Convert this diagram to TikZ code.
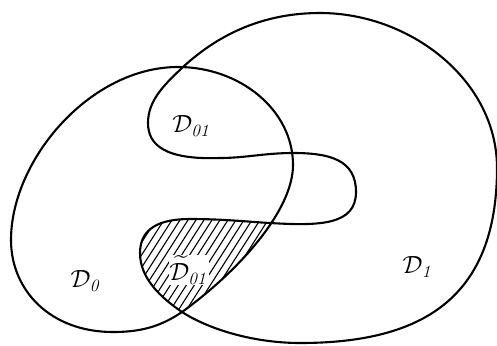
\documentclass[tikz,border=0pt]{standalone}
\usepackage{amsmath}
\begin{document}
\begin{tikzpicture}[x=1pt,y=-1pt,
  curve/.style={line width=2.1pt, line join=round},
  hatch/.style={line width=1.1pt},
  lbl/.style={font=\huge, transform shape, scale=1.2, inner sep=1pt}]
\useasboundingbox (0,0) rectangle (497,345);
% hatching of the lower common part
\begin{scope}
  % D0
  \clip (178,67) .. controls (240,67) and (293,110) .. (293,165)
        .. controls (293,210) and (240,270) .. (182,312)
        .. controls (160,327) and (140,332) .. (113,332)
        .. controls (50,332) and (11,290) .. (11,240)
        .. controls (11,160) and (90,67) .. (178,67) -- cycle;
  % D1
  \clip (183,67) .. controls (220,33) and (265,13) .. (320,13)
        .. controls (410,13) and (497,80) .. (497,168)
        .. controls (497,300) and (420,343) .. (300,343)
        .. controls (255,343) and (210,330) .. (182,312)
        .. controls (160,297) and (140,278) .. (140,253)
        .. controls (140,228) and (160,219) .. (190,219)
        .. controls (225,219) and (250,222) .. (270,223)
        .. controls (320,226) and (356,225) .. (356,192)
        .. controls (356,160) and (330,153) .. (293,153)
        .. controls (265,153) and (245,158) .. (220,158)
        .. controls (165,160) and (148,145) .. (148,123)
        .. controls (148,100) and (165,84) .. (183,67) -- cycle;
  \clip (0,195) rectangle (497,345);
  \foreach \i in {0,...,38} \draw[hatch] (60+\i*8,345) -- ++(160,-250);
\end{scope}
% labels
\node[lbl] (d01) at (192,126) {$\mathcal{D}_{\mathit{01}}$};
\node[lbl, fill=white, inner sep=0.5pt] (dt01) at (189,270) {$\widetilde{\mathcal{D}}_{\mathit{01}}$};
\node[lbl] (d0) at (86,281) {$\mathcal{D}_{\mathit{0}}$};
\node[lbl] (d1) at (418,267) {$\mathcal{D}_{\mathit{1}}$};
% curve D0
\draw[curve] (178,67) .. controls (240,67) and (293,110) .. (293,165)
      .. controls (293,210) and (240,270) .. (182,312)
      .. controls (160,327) and (140,332) .. (113,332)
      .. controls (50,332) and (11,290) .. (11,240)
      .. controls (11,160) and (90,67) .. (178,67) -- cycle;
% curve D1
\draw[curve] (183,67) .. controls (220,33) and (265,13) .. (320,13)
      .. controls (410,13) and (497,80) .. (497,168)
      .. controls (497,300) and (420,343) .. (300,343)
      .. controls (255,343) and (210,330) .. (182,312)
      .. controls (160,297) and (140,278) .. (140,253)
      .. controls (140,228) and (160,219) .. (190,219)
      .. controls (225,219) and (250,222) .. (270,223)
      .. controls (320,226) and (356,225) .. (356,192)
      .. controls (356,160) and (330,153) .. (293,153)
      .. controls (265,153) and (245,158) .. (220,158)
      .. controls (165,160) and (148,145) .. (148,123)
      .. controls (148,100) and (165,84) .. (183,67) -- cycle;
\end{tikzpicture}
\end{document}
